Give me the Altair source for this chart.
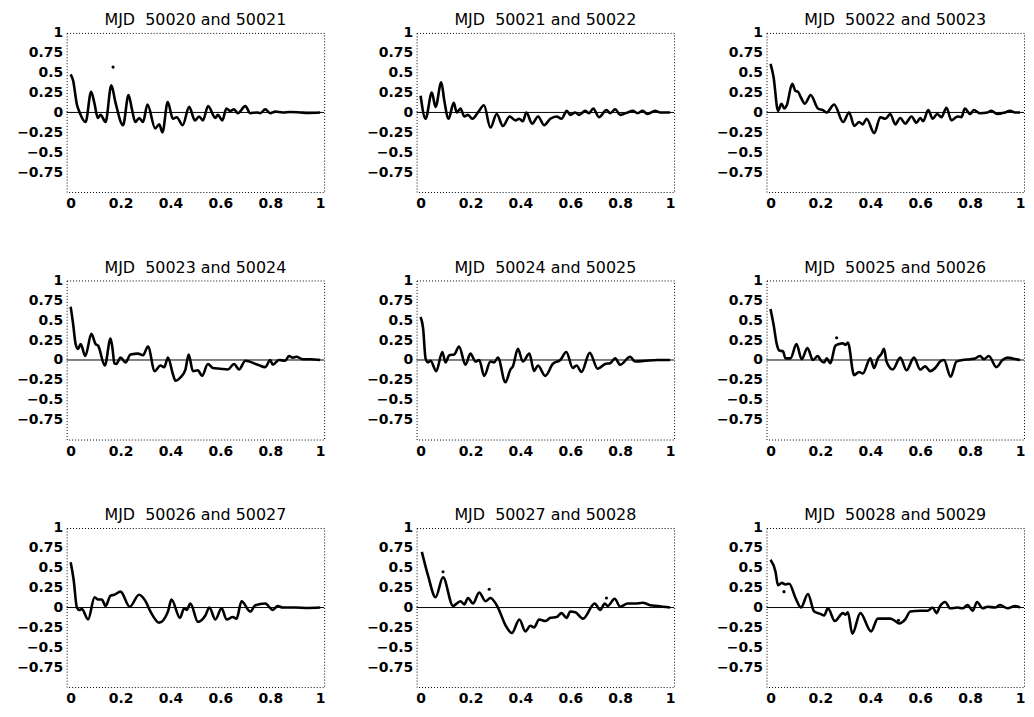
import altair as alt
import pandas as pd

titles = [
    "MJD\u00a0\u00a050020 and 50021", "MJD\u00a0\u00a050021 and 50022", "MJD\u00a0\u00a050022 and 50023",
    "MJD\u00a0\u00a050023 and 50024", "MJD\u00a0\u00a050024 and 50025", "MJD\u00a0\u00a050025 and 50026",
    "MJD\u00a0\u00a050026 and 50027", "MJD\u00a0\u00a050027 and 50028", "MJD\u00a0\u00a050028 and 50029",
]

x20 = [0.0, 0.01, 0.025, 0.036, 0.06, 0.082, 0.095, 0.109, 0.12, 0.14, 0.163, 0.18, 0.21, 0.232, 0.245,
       0.259, 0.275, 0.29, 0.308, 0.339, 0.355, 0.368, 0.389, 0.41, 0.425, 0.449, 0.475, 0.498, 0.515,
       0.53, 0.551, 0.58, 0.59, 0.608, 0.624, 0.64, 0.655, 0.67, 0.70, 0.72, 0.745, 0.76, 0.78, 0.80,
       0.82, 0.85, 0.88, 0.92, 0.95, 1.0]
y20 = [0.48, 0.40, 0.10, 0.0, -0.12, 0.26, 0.12, -0.07, -0.03, -0.12, 0.34, 0.12, -0.16, 0.22, 0.05,
       -0.12, -0.07, -0.12, 0.10, -0.20, -0.15, -0.25, 0.13, -0.08, -0.06, -0.16, 0.07, -0.10, -0.05,
       -0.10, 0.08, -0.07, -0.03, -0.10, 0.05, 0.02, 0.04, -0.01, 0.08, -0.01, 0.0, -0.01, 0.04, -0.01,
       0.01, 0.0, 0.005, 0.0, -0.005, 0.0]

x21 = [0.0, 0.02, 0.045, 0.06, 0.083, 0.095, 0.112, 0.133, 0.145, 0.16, 0.175, 0.19, 0.207, 0.23, 0.254,
       0.28, 0.305, 0.33, 0.357, 0.38, 0.395, 0.41, 0.424, 0.447, 0.471, 0.495, 0.52, 0.545, 0.565, 0.586,
       0.60, 0.62, 0.635, 0.66, 0.675, 0.692, 0.715, 0.745, 0.76, 0.78, 0.80, 0.83, 0.85, 0.87, 0.89,
       0.91, 0.94, 0.96, 1.0]
y21 = [0.21, -0.08, 0.25, 0.07, 0.38, 0.15, -0.08, 0.12, 0.0, 0.05, -0.05, -0.03, -0.08, 0.0, 0.09,
       -0.19, -0.02, -0.17, -0.05, -0.10, -0.08, -0.11, 0.0, -0.14, -0.05, -0.16, -0.08, -0.05, -0.08, 0.02,
       -0.03, 0.0, -0.03, 0.02, -0.01, 0.05, -0.06, 0.03, -0.01, 0.04, -0.03, 0.0, 0.02, -0.01, 0.02,
       -0.02, 0.02, 0.0, 0.0]

x22 = [0.0, 0.012, 0.03, 0.044, 0.055, 0.065, 0.087, 0.10, 0.11, 0.12, 0.138, 0.161, 0.19, 0.21, 0.225,
       0.255, 0.291, 0.315, 0.336, 0.355, 0.37, 0.385, 0.416, 0.44, 0.46, 0.48, 0.50, 0.52, 0.54, 0.565,
       0.585, 0.60, 0.612, 0.632, 0.65, 0.668, 0.685, 0.705, 0.725, 0.75, 0.765, 0.779, 0.80, 0.815, 0.84,
       0.87, 0.885, 0.91, 0.94, 0.96, 0.98, 1.0]
y22 = [0.61, 0.45, 0.02, 0.11, 0.05, 0.09, 0.36, 0.27, 0.26, 0.20, 0.11, 0.22, 0.05, 0.03, 0.0,
       0.10, -0.12, 0.0, -0.17, -0.12, -0.15, -0.08, -0.26, -0.06, -0.08, -0.02, -0.15, -0.07, -0.14, -0.05,
       -0.13, -0.07, -0.11, 0.03, -0.08, -0.02, -0.06, 0.06, -0.10, -0.05, -0.06, 0.05, -0.02, 0.03, -0.01,
       0.0, 0.02, -0.02, 0.0, 0.02, 0.0, 0.0]

x23 = [0.0, 0.01, 0.02, 0.03, 0.04, 0.059, 0.083, 0.10, 0.11, 0.137, 0.16, 0.168, 0.175, 0.183, 0.20,
       0.22, 0.24, 0.27, 0.29, 0.31, 0.337, 0.36, 0.375, 0.39, 0.41, 0.42, 0.44, 0.46, 0.473, 0.49, 0.51,
       0.527, 0.55, 0.57, 0.60, 0.63, 0.655, 0.675, 0.70, 0.75, 0.78, 0.80, 0.81, 0.835, 0.86, 0.875,
       0.89, 0.905, 0.93, 0.96, 1.0]
y23 = [0.67, 0.45, 0.20, 0.14, 0.20, 0.05, 0.33, 0.20, 0.18, -0.07, 0.27, 0.14, -0.04, -0.05, 0.03,
       -0.03, 0.07, 0.08, 0.06, 0.17, -0.14, -0.07, -0.09, 0.03, -0.18, -0.26, -0.22, -0.12, 0.07, -0.14, -0.13,
       -0.20, -0.05, -0.10, -0.11, -0.12, -0.05, -0.12, -0.01, -0.06, -0.09, 0.0, -0.06, 0.0, -0.01, 0.05,
       0.03, 0.04, 0.01, 0.01, 0.0]

x24 = [0.0, 0.01, 0.02, 0.03, 0.04, 0.063, 0.087, 0.10, 0.115, 0.135, 0.154, 0.18, 0.20, 0.22, 0.235,
       0.255, 0.28, 0.295, 0.31, 0.34, 0.36, 0.37, 0.39, 0.41, 0.436, 0.455, 0.47, 0.50, 0.53, 0.56, 0.584,
       0.61, 0.625, 0.645, 0.678, 0.71, 0.74, 0.76, 0.78, 0.80, 0.84, 0.86, 0.90, 0.95, 1.0]
y24 = [0.54, 0.40, 0.02, -0.03, -0.01, -0.14, 0.10, -0.03, 0.06, 0.07, 0.17, -0.06, 0.08, -0.02, 0.0,
       -0.20, -0.02, -0.03, 0.03, -0.28, -0.12, -0.08, 0.14, -0.02, 0.08, -0.14, -0.07, -0.20, -0.05, 0.0, 0.10,
       -0.10, -0.07, -0.15, 0.09, -0.11, -0.05, -0.04, 0.02, -0.06, 0.04, -0.02, -0.01, 0.0, 0.0]

x25 = [0.0, 0.012, 0.025, 0.035, 0.05, 0.06, 0.08, 0.104, 0.125, 0.148, 0.17, 0.19, 0.20, 0.215, 0.225,
       0.24, 0.26, 0.275, 0.29, 0.30, 0.31, 0.335, 0.355, 0.37, 0.40, 0.415, 0.43, 0.445, 0.455, 0.465,
       0.49, 0.52, 0.545, 0.575, 0.60, 0.62, 0.64, 0.66, 0.68, 0.695, 0.722, 0.745, 0.77, 0.80, 0.82,
       0.84, 0.855, 0.875, 0.905, 0.93, 0.95, 0.97, 1.0]
y25 = [0.64, 0.45, 0.20, 0.12, 0.11, 0.02, 0.02, 0.20, 0.01, 0.15, 0.0, 0.05, 0.0, -0.03, 0.02,
       -0.04, 0.18, 0.20, 0.21, 0.19, 0.22, -0.19, -0.15, -0.17, 0.02, -0.10, 0.02, 0.08, 0.14, -0.02,
       -0.12, 0.03, -0.13, 0.03, -0.12, -0.08, -0.14, -0.10, -0.02, 0.0, -0.21, -0.02, 0.0, 0.01, 0.02,
       0.05, 0.01, 0.05, -0.09, 0.0, 0.03, 0.02, 0.0]

x26 = [0.0, 0.012, 0.025, 0.035, 0.045, 0.07, 0.096, 0.11, 0.125, 0.14, 0.16, 0.175, 0.20, 0.237, 0.274,
       0.30, 0.32, 0.355, 0.39, 0.404, 0.438, 0.455, 0.465, 0.48, 0.51, 0.54, 0.556, 0.58, 0.605, 0.625,
       0.65, 0.665, 0.685, 0.72, 0.74, 0.78, 0.81, 0.83, 0.85, 0.90, 0.95, 1.0]
y26 = [0.57, 0.35, 0.0, -0.03, -0.02, -0.15, 0.13, 0.10, 0.10, 0.02, 0.15, 0.16, 0.20, 0.01, 0.16,
       0.08, -0.05, -0.19, -0.05, 0.10, -0.13, -0.01, -0.03, 0.05, -0.18, -0.10, 0.0, -0.15, -0.01, -0.15,
       -0.12, -0.14, 0.08, -0.05, 0.03, 0.05, -0.03, 0.02, 0.0, 0.0, -0.005, 0.0]

x27 = [0.005, 0.03, 0.06, 0.09, 0.13, 0.16, 0.175, 0.19, 0.21, 0.235, 0.26, 0.28, 0.31, 0.34, 0.366,
       0.396, 0.42, 0.44, 0.455, 0.475, 0.50, 0.52, 0.545, 0.565, 0.585, 0.60, 0.62, 0.651, 0.698, 0.72,
       0.738, 0.75, 0.778, 0.80, 0.83, 0.86, 0.89, 0.92, 0.95, 1.0]
y27 = [0.70, 0.40, 0.13, 0.38, 0.02, 0.08, 0.04, 0.12, 0.05, 0.19, 0.08, 0.12, 0.0, -0.22, -0.32,
       -0.15, -0.30, -0.23, -0.25, -0.15, -0.17, -0.13, -0.12, -0.07, -0.13, -0.05, -0.06, -0.14, 0.05, -0.03,
       0.05, 0.02, 0.11, 0.01, 0.05, 0.05, 0.06, 0.03, 0.02, 0.0]

x28 = [0.0, 0.02, 0.03, 0.045, 0.06, 0.075, 0.10, 0.122, 0.15, 0.175, 0.20, 0.215, 0.23, 0.258, 0.29,
       0.30, 0.31, 0.328, 0.36, 0.403, 0.43, 0.48, 0.50, 0.515, 0.54, 0.56, 0.60, 0.63, 0.65, 0.665, 0.68,
       0.70, 0.72, 0.75, 0.77, 0.79, 0.81, 0.828, 0.85, 0.87, 0.90, 0.92, 0.95, 0.98, 1.0]
y28 = [0.60, 0.45, 0.28, 0.31, 0.29, 0.30, 0.12, 0.0, 0.17, -0.05, -0.08, -0.10, -0.01, -0.17, -0.07,
       -0.09, -0.06, -0.33, -0.07, -0.30, -0.14, -0.14, -0.17, -0.20, -0.15, -0.05, -0.04, -0.04, 0.0, -0.07, 0.02,
       0.07, -0.01, 0.0, -0.01, 0.03, -0.04, 0.07, -0.01, 0.01, 0.0, 0.03, -0.01, 0.02, 0.0]

# isolated dots lying off the curves: panel index, x, y
stray_panel = [0, 5, 7, 7, 7, 8, 8]
stray_x = [0.17, 0.265, 0.09, 0.275, 0.745, 0.054, 0.513]
stray_y = [0.57, 0.28, 0.45, 0.23, 0.12, 0.20, -0.16]

series = [(x20, y20), (x21, y21), (x22, y22), (x23, y23), (x24, y24),
          (x25, y25), (x26, y26), (x27, y27), (x28, y28)]

x_ticks = [0, 0.2, 0.4, 0.6, 0.8, 1]
y_ticks = [-0.75, -0.5, -0.25, 0, 0.25, 0.5, 0.75, 1]

FONT = "DejaVu Sans"
label_expr = "datum.value < 0 ? '\u2212' + format(-datum.value, '') : format(datum.value, '')"

x_scale = alt.Scale(domain=[-0.016, 1.016], nice=False, zero=False)
y_scale = alt.Scale(domain=[-1, 1], nice=False, zero=False)
x_axis = alt.Axis(values=x_ticks, labelExpr=label_expr, ticks=False, domain=False, grid=False,
                  labelPadding=5, labelFont=FONT, labelFontSize=14, labelFontWeight="bold",
                  labelColor="black", labelFlush=False, labelOverlap=False)
y_axis = alt.Axis(values=y_ticks, labelExpr=label_expr, ticks=False, domain=False, grid=False,
                  labelPadding=4, labelFont=FONT, labelFontSize=14, labelFontWeight="bold",
                  labelColor="black", labelFlush=False, labelOverlap=False)


def make_panel(i):
    xs, ys = series[i]
    df = pd.DataFrame({"x": xs, "y": ys})
    zero = alt.Chart(pd.DataFrame({"y": [0]})).mark_rule(color="black", strokeWidth=1).encode(
        y=alt.Y("y:Q", scale=y_scale, axis=y_axis, title=None)
    )
    line = alt.Chart(df).mark_line(interpolate="monotone", color="black", strokeWidth=2.6).encode(
        x=alt.X("x:Q", scale=x_scale, axis=x_axis, title=None),
        y=alt.Y("y:Q", scale=y_scale, axis=y_axis, title=None),
    )
    layers = [zero, line]
    sx = [stray_x[k] for k in range(len(stray_panel)) if stray_panel[k] == i]
    sy = [stray_y[k] for k in range(len(stray_panel)) if stray_panel[k] == i]
    if sx:
        pts = alt.Chart(pd.DataFrame({"x": sx, "y": sy})).mark_circle(color="black", size=10, opacity=1).encode(
            x=alt.X("x:Q", scale=x_scale, axis=x_axis, title=None),
            y=alt.Y("y:Q", scale=y_scale, axis=y_axis, title=None),
        )
        layers.append(pts)
    return alt.layer(*layers).properties(
        width=259, height=160,
        title=alt.TitleParams(titles[i], font=FONT, fontSize=16, fontWeight="normal", color="black", offset=-2),
    )


chart = alt.concat(*[make_panel(i) for i in range(9)], columns=3,
                   spacing={"row": 89, "column": 93}, bounds="flush").properties(
    padding={"left": 8, "top": 1, "right": 0, "bottom": 0}
).configure_view(
    stroke="black", strokeDash=[1, 2], strokeWidth=1
)

chart.save("out.html", embed_options={"renderer": "svg", "actions": False})
